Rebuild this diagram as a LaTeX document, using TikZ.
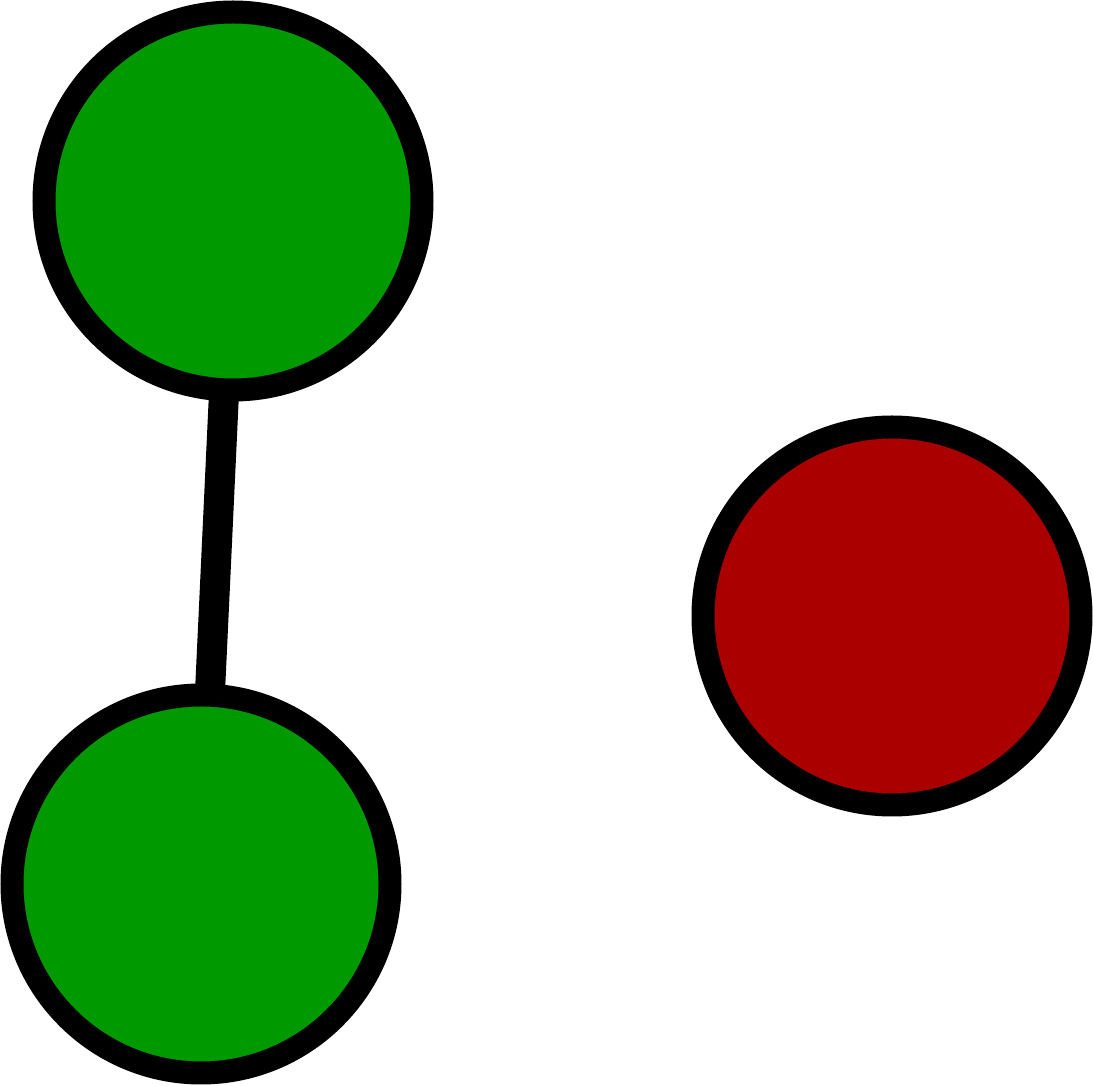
\documentclass[tikz,border=0pt]{standalone}
\usepackage{tikz}
\usepackage{xcolor}
\definecolor{vgreen}{HTML}{009900}
\definecolor{vred}{HTML}{AA0000}
\tikzstyle{vert}=[
  circle,minimum size=3.78cm,inner sep=0pt,outer sep=0pt,
  draw=black,line width=0.23cm]
\tikzstyle{link}=[line width=0.30cm]

\begin{document}
\begin{tikzpicture}
  \useasboundingbox (0,0) rectangle (10.93,-10.86);
  \foreach \n/\x/\y/\c in {a/2.33/-2.01/vgreen, b/2.01/-8.84/vgreen, c/8.92/-6.16/vred}
    \node[vert,fill=\c] (\n) at (\x,\y) {};

  \draw[link] (a) -- (b);
\end{tikzpicture}
\end{document}
